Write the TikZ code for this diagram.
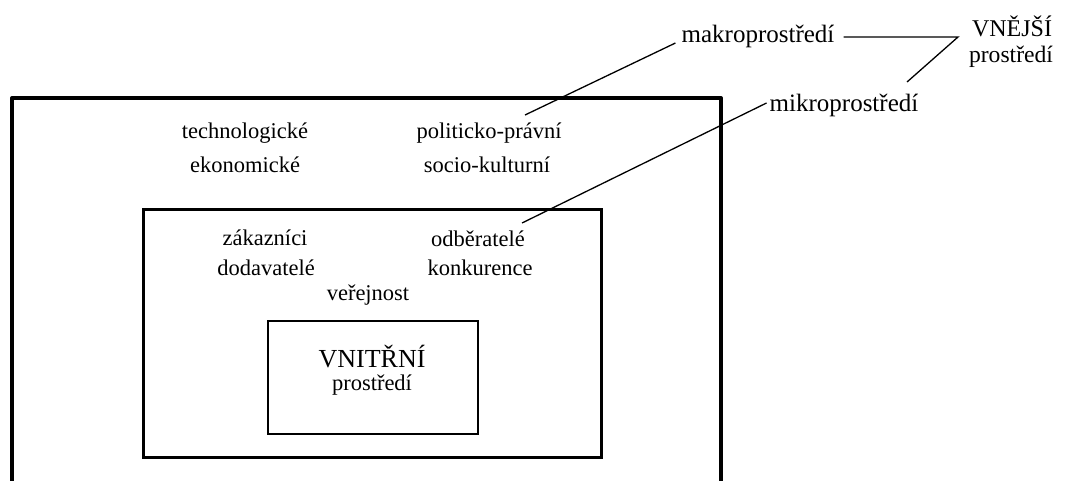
\documentclass[tikz,border=0pt]{standalone}
\usepackage{fontspec}
\setmainfont{Liberation Serif}
\begin{document}
\begin{tikzpicture}[x=1pt,y=-1pt,
  lbl/.style={font=\fontsize{22.5}{27}\selectfont, inner sep=0pt, anchor=base},
  toplbl/.style={font=\fontsize{25}{30}\selectfont, inner sep=0pt, anchor=base},
  big/.style={font=\fontsize{26}{31}\selectfont, inner sep=0pt, anchor=base},
  wire/.style={line width=1.3pt},
  frame/.style={draw, inner sep=0pt}]
\clip (0,0) rectangle (1067,480);

% environment frames: outer (open below), micro, internal
\draw[line width=4pt, line join=round] (12,520) -- (12,98) -- (721,98) -- (721,520);
\node[frame, line width=3pt, minimum width=458pt, minimum height=248pt] (microbox) at (372,333) {};
\node[frame, line width=1.1pt, minimum width=210pt, minimum height=113pt] (innerbox) at (373,377.5) {};

% macro-environment factors
\node[lbl] (tech) at (245,138) {technologické};
\node[lbl] (eko)  at (245,172) {ekonomické};
\node[lbl] (pol)  at (489,138) {politicko-právní};
\node[lbl] (soc)  at (487,172) {socio-kulturní};

% micro-environment actors
\node[lbl] (zak)  at (265,245) {zákazníci};
\node[lbl] (dod)  at (266,275) {dodavatelé};
\node[lbl] (odb)  at (478,246) {odběratelé};
\node[lbl] (konk) at (480,275) {konkurence};
\node[lbl] (ver)  at (368,300) {veřejnost};

% internal environment
\node[big] (vnitr)  at (372,367) {VNITŘNÍ};
\node[lbl] (vnitr2) at (372,390) {prostředí};

% external environment labels
\node[toplbl] (makro) at (758,42) {makroprostředí};
\node[toplbl] (mikro) at (844,111) {mikroprostředí};
\node[font=\fontsize{24}{29}\selectfont, inner sep=0pt, anchor=base] (vnej)  at (1012,36) {VNĚJŠÍ};
\node[font=\fontsize{23.6}{28}\selectfont, inner sep=0pt, anchor=base] (vnej2) at (1011,62) {prostředí};

% connectors
\coordinate (fork)   at (958,37);
\coordinate (polTip) at (525,115);
\coordinate (odbTip) at (522,223);
\draw[wire] ([shift={(-6,1)}]makro.base west) -- (polTip);
\draw[wire] ([shift={(9,-5)}]makro.base east) -- (fork) -- (907,82);
\draw[wire] ([shift={(-3,-8)}]mikro.base west) -- (odbTip);
\end{tikzpicture}
\end{document}
